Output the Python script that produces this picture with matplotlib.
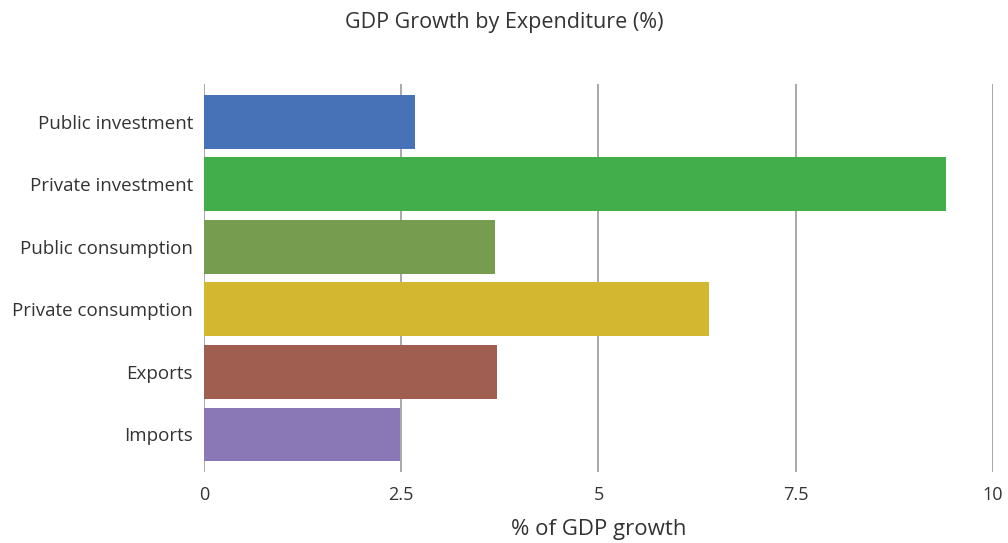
import matplotlib
matplotlib.use("Agg")
import matplotlib.pyplot as plt
import matplotlib.transforms as mtransforms

categories = ["Public investment", "Private investment", "Public consumption",
              "Private consumption", "Exports", "Imports"]
values = [2.67, 9.40, 3.69, 6.40, 3.71, 2.48]
colors = ["#4872B8", "#41AE4B", "#769C50", "#D4B730", "#A05E50", "#8A77B6"]
xticks = [0, 2.5, 5, 7.5, 10]
xtick_labels = ["0", "2.5", "5", "7.5", "10"]

plt.rcParams['font.family'] = ['Open Sans', 'DejaVu Sans']

fig = plt.figure(figsize=(10.08, 5.43), dpi=100)
ax = fig.add_axes([0.2024, 0.1308, 0.7826, 0.7142])

y = list(range(len(categories)))
ax.barh(y, values, height=0.86, color=colors, zorder=3)
ax.set_ylim(5.6, -0.6)
ax.set_xlim(0, 10)
ax.set_xticks(xticks)
ax.set_xticklabels(xtick_labels, fontsize=13, color="#333333")
ax.set_yticks(y)
ax.set_yticklabels(categories, fontsize=13.5, color="#333333")
offset = mtransforms.ScaledTranslation(0, 3 / 72, fig.dpi_scale_trans)
for lbl in ax.get_yticklabels():
    lbl.set_transform(lbl.get_transform() + offset)
ax.tick_params(axis='y', length=0, pad=8)
ax.tick_params(axis='x', length=0, pad=10)
for s in ax.spines.values():
    s.set_visible(False)
ax.grid(axis='x', color="#999999", linewidth=1.2, zorder=1)
ax.grid(axis='y', visible=False)
ax.set_xlabel("% of GDP growth", fontsize=16, color="#333333", labelpad=11)
fig.text(0.5, 0.958, "GDP Growth by Expenditure (%)", ha='center', va='center',
         fontsize=15.5, color="#333333")

fig.savefig("out.png", dpi=100)
